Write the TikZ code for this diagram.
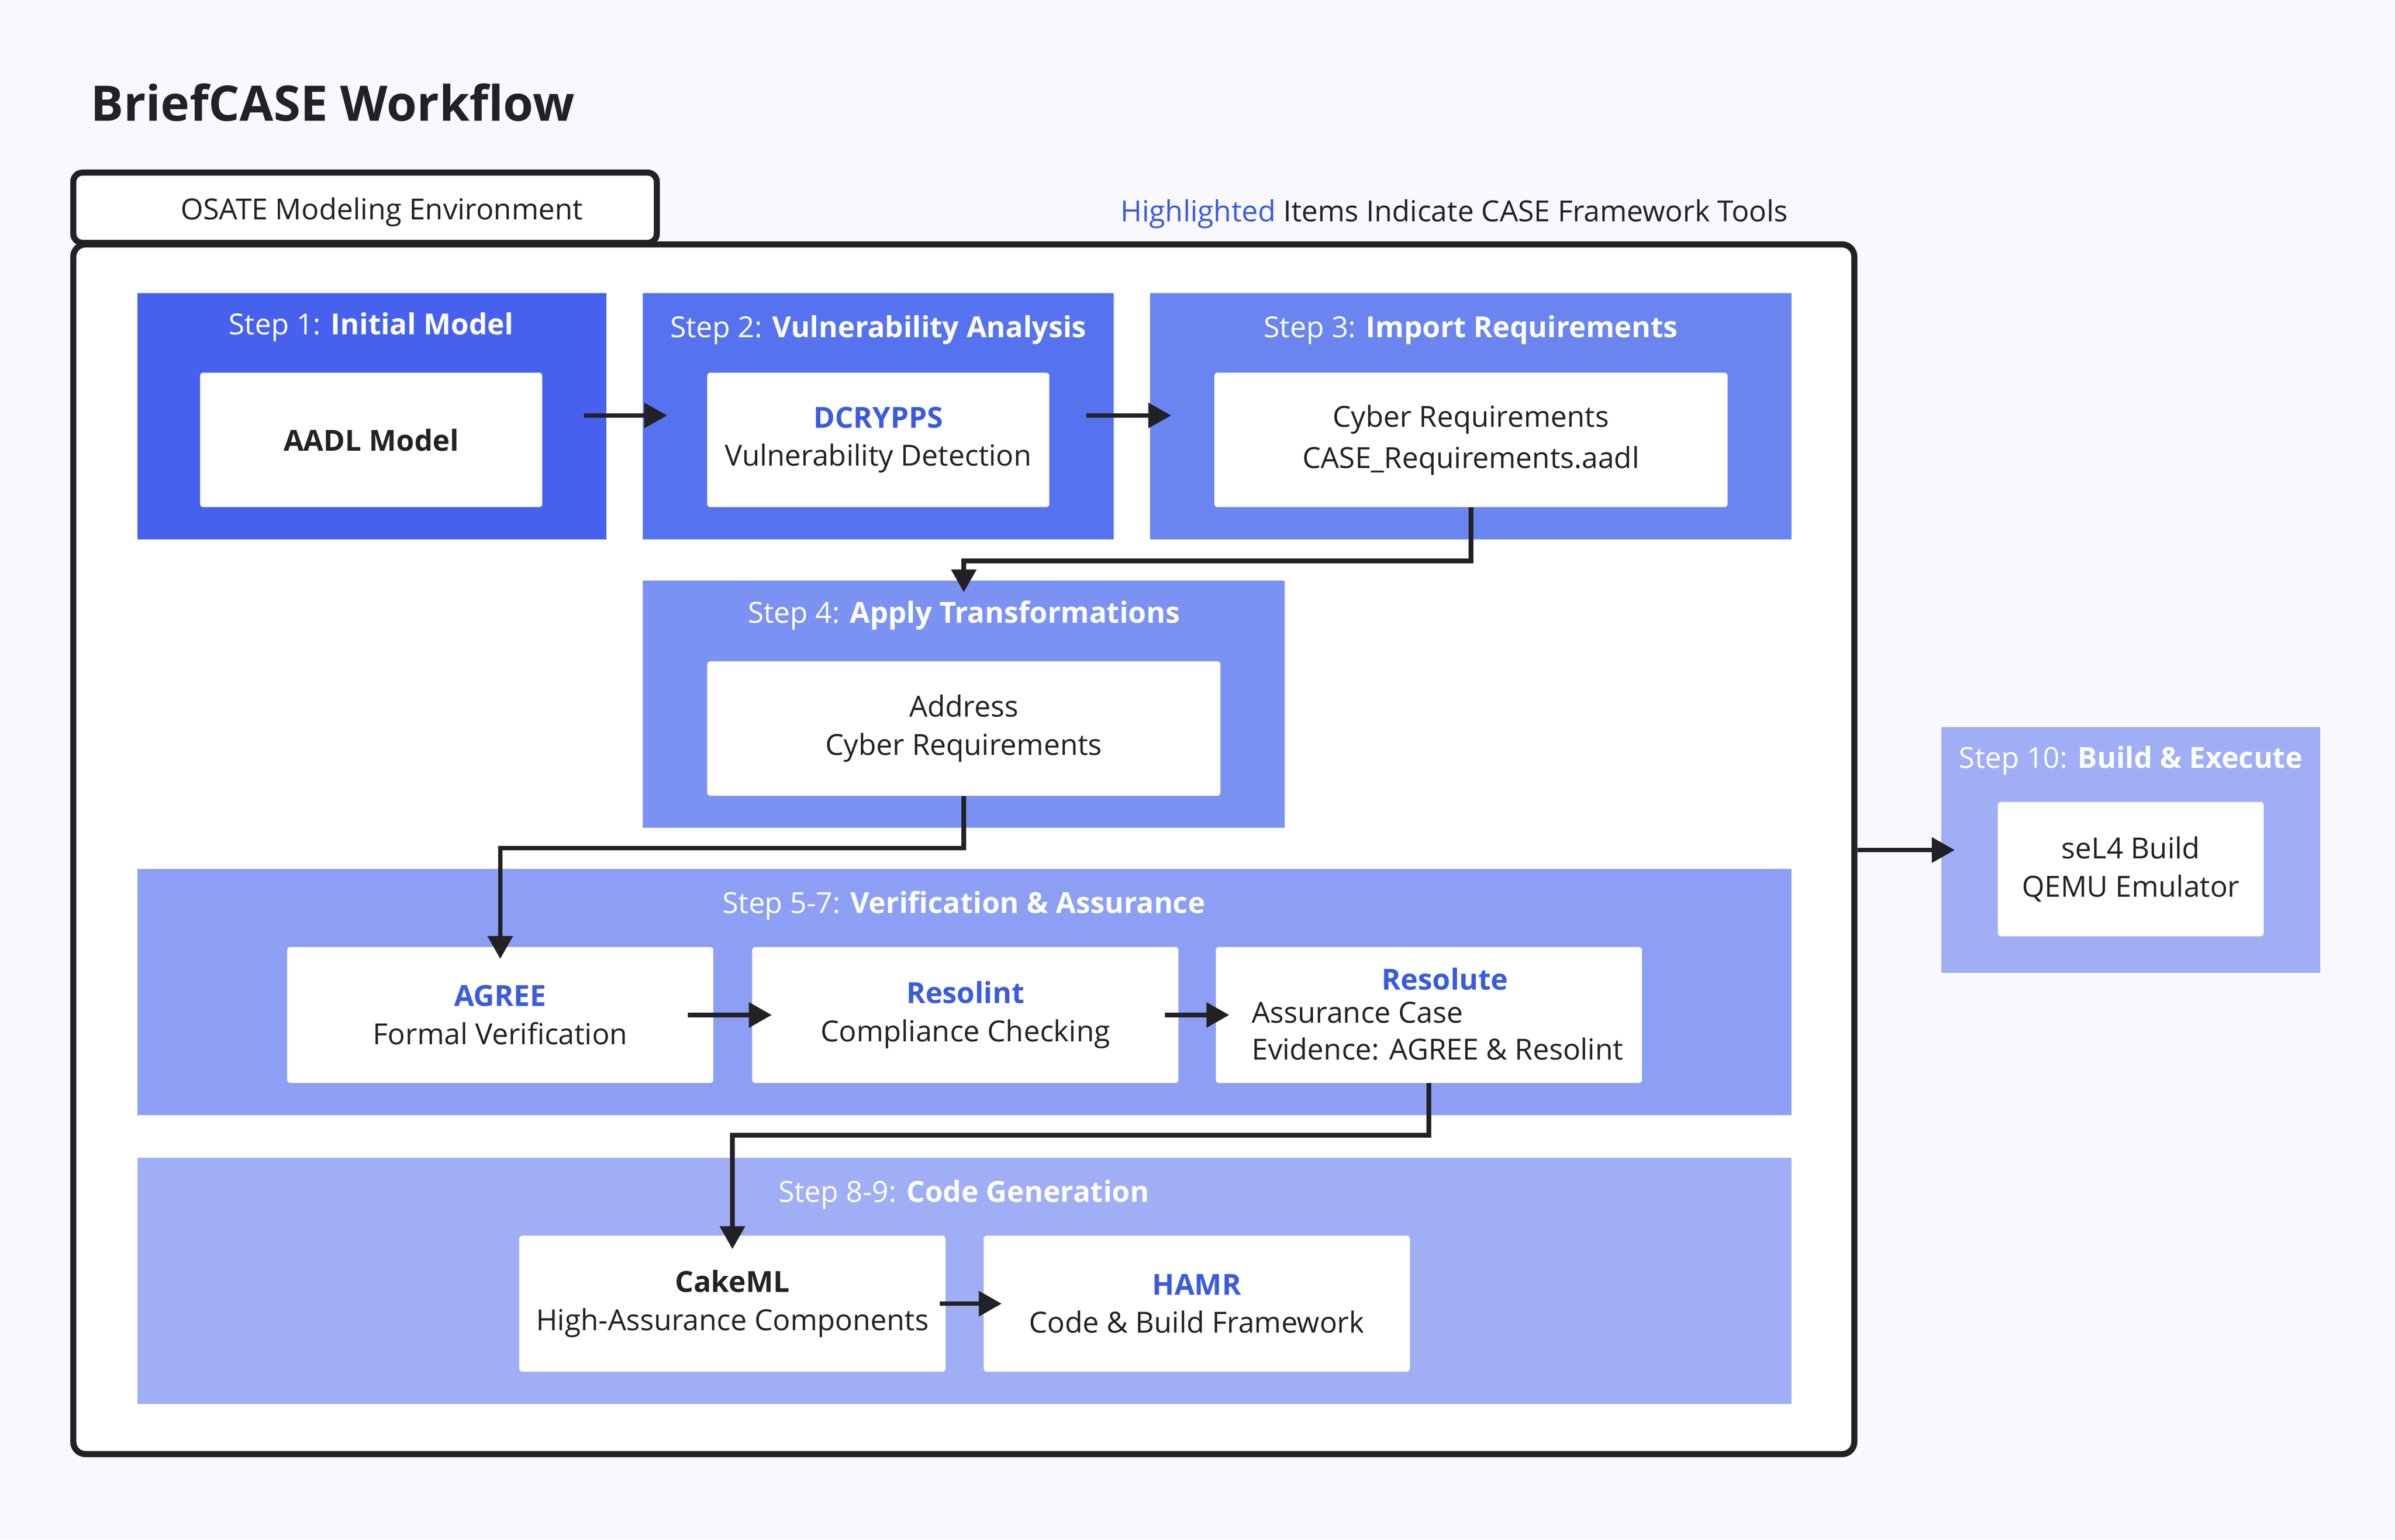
\documentclass[tikz,border=0pt]{standalone}
\usepackage{fontspec}
\setmainfont{Open Sans}
\usetikzlibrary{calc,arrows.meta}
\definecolor{bg}{HTML}{F8F8FD}
\definecolor{cA}{HTML}{4561EE}
\definecolor{cB}{HTML}{5573EF}
\definecolor{cC}{HTML}{6A84F0}
\definecolor{cD}{HTML}{7B92F2}
\definecolor{cE}{HTML}{8D9FF4}
\definecolor{cF}{HTML}{A0AEF6}
\definecolor{tool}{HTML}{3A5BE0}
\definecolor{ink}{HTML}{222226}
\begin{document}
\begin{tikzpicture}[x=1pt,y=-1pt,
  panel/.style={draw=none,inner sep=0pt},
  inner/.style={fill=white,rounded corners=2pt,inner sep=0pt,align=center,text=ink,font=\fontsize{19}{25}\selectfont},
  ttl/.style={text=white,font=\fontsize{19}{23}\selectfont},
  conn/.style={draw=ink,line width=3pt,-{Triangle[length=15pt,width=16pt]}},
  tl/.style={text=tool,font=\fontsize{19}{25}\selectfont\bfseries}]
\fill[bg] (0,0) rectangle (1568,1008);
\useasboundingbox (0,0) rectangle (1568,1008);
\node[anchor=west,text=ink,font=\fontsize{32}{38}\selectfont\bfseries] (title) at (56,67) {BriefCASE Workflow};
\node[draw=ink,line width=4pt,rounded corners=8pt,fill=white,minimum width=1166pt,minimum height=792pt] (main) at (631,556) {};
\node[draw=ink,line width=4pt,rounded corners=6pt,fill=white,minimum width=382pt,minimum height=46pt] (tab) at (239,136) {};
\node[text=ink,font=\fontsize{19}{23}\selectfont] (tabtxt) at (250,139) {OSATE Modeling Environment};
\node[anchor=east,font=\fontsize{19}{23}\selectfont,text=ink] (legend) at (1174,140) {\textcolor{tool}{Highlighted} Items Indicate CASE Framework Tools};
% panels
\node[panel,fill=cA,minimum width=307pt,minimum height=161pt] (s1) at (243.5,272.5) {};
\node[panel,fill=cB,minimum width=308pt,minimum height=161pt] (s2) at (575,272.5) {};
\node[panel,fill=cC,minimum width=420pt,minimum height=161pt] (s3) at (963,272.5) {};
\node[panel,fill=cD,minimum width=420pt,minimum height=162pt] (s4) at (631,461) {};
\node[panel,fill=cE,minimum width=1083pt,minimum height=161pt] (s5) at (631.5,649.5) {};
\node[panel,fill=cF,minimum width=1083pt,minimum height=161pt] (s8) at (631.5,838.5) {};
\node[panel,fill=cF,minimum width=248pt,minimum height=161pt] (s10) at (1395,556.5) {};
% titles
\node[ttl] (t1) at (243,214) {Step 1: \textbf{Initial Model}};
\node[ttl] (t2) at (575,216) {Step 2: \textbf{Vulnerability Analysis}};
\node[ttl] (t3) at (963,216) {Step 3: \textbf{Import Requirements}};
\node[ttl] (t4) at (631,403) {Step 4: \textbf{Apply Transformations}};
\node[ttl] (t5) at (631,593) {Step 5-7: \textbf{Verification \& Assurance}};
\node[ttl] (t8) at (631,782) {Step 8-9: \textbf{Code Generation}};
\node[ttl] (t10) at (1395,498) {Step 10: \textbf{Build \& Execute}};
% inner boxes
\node[inner,minimum width=224pt,minimum height=88pt] (n1) at (243,288) {\textbf{AADL Model}};
\node[inner,minimum width=224pt,minimum height=88pt] (n2) at (575,288) {{\color{tool}\bfseries DCRYPPS}\\Vulnerability Detection};
\node[inner,minimum width=336pt,minimum height=88pt] (n3) at (963,288) {Cyber Requirements\\[2pt]CASE\_Requirements.aadl};
\node[inner,minimum width=336pt,minimum height=88pt] (n4) at (631,477) {Address\\Cyber Requirements};
\node[inner,minimum width=279pt,minimum height=89pt] (n5) at (327.5,664.5) {{\color{tool}\bfseries AGREE}\\Formal Verification};
\node[inner,minimum width=279pt,minimum height=89pt] (n6) at (632,664.5) {{\color{tool}\bfseries Resolint}\\Compliance Checking};
\node[inner,minimum width=279pt,minimum height=89pt] (n7) at (935.5,664.5) {};
\node[text=tool,font=\fontsize{19}{25}\selectfont\bfseries] (n7a) at (946,641) {Resolute};
\node[anchor=west,text=ink,font=\fontsize{19}{24}\selectfont,align=left] (n7b) at (816,675) {Assurance Case\\Evidence: AGREE \& Resolint};
\node[inner,minimum width=279pt,minimum height=89pt] (n8) at (479.5,853.5) {\textbf{CakeML}\\High-Assurance Components};
\node[inner,minimum width=279pt,minimum height=89pt] (n9) at (783.5,853.5) {{\color{tool}\bfseries HAMR}\\Code \& Build Framework};
\node[inner,minimum width=174pt,minimum height=88pt] (n10) at (1395,569) {seL4 Build\\QEMU Emulator};
% connectors
\draw[conn] ($(n1.east)+(27,-16)$) -- ($(n2.west)+(-26,-16)$);
\draw[conn] ($(n2.east)+(24,-16)$) -- ($(n3.west)+(-28,-16)$);
\draw[conn] (n3.south) -- ++(0,35) -| ($(s4.north)+(0,8)$);
\draw[conn] (n4.south) -- ++(0,34) -| ($(n5.north)+(0,8)$);
\draw[conn] ($(n5.east)+(-17,0)$) -- ($(n6.west)+(13,0)$);
\draw[conn] ($(n6.east)+(-9,0)$) -- ($(n7.west)+(9,0)$);
\draw[conn] (n7.south) -- ++(0,34) -| ($(n8.north)+(0,9)$);
\draw[conn] ($(n8.east)+(-4,0)$) -- ($(n9.west)+(12,0)$);
\draw[conn] (main.east |- s10.west) -- ($(s10.west)+(9,0)$);
\end{tikzpicture}
\end{document}
